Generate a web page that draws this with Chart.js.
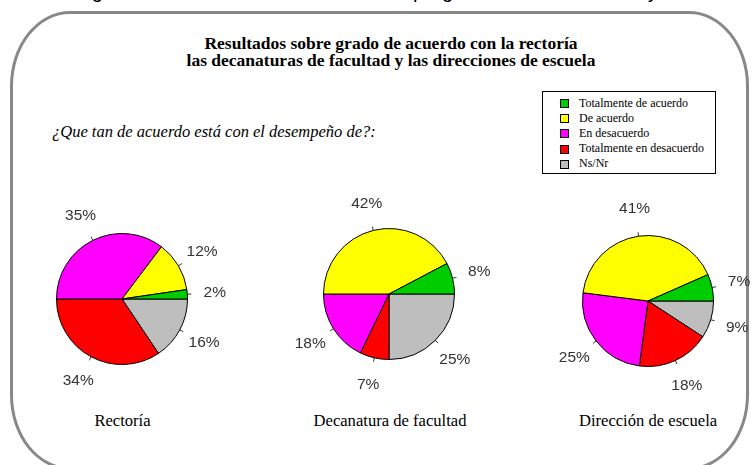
<!DOCTYPE html>
<html><head><meta charset="utf-8">
<script src="https://cdn.jsdelivr.net/npm/chart.js@4"></script>
<style>
html,body{margin:0;padding:0;width:752px;height:465px;overflow:hidden;background:#fff;}
body{position:relative;}
.t{position:absolute;white-space:nowrap;color:#000;}
.serif{font-family:"Liberation Serif","DejaVu Serif",serif;}
.c{transform:translateX(-50%);}
#frame{position:absolute;left:10px;top:11px;width:733px;height:453px;border:3px solid #888;border-radius:60px/75px;}
#legend{position:absolute;left:542px;top:91px;width:172px;height:81px;border:1px solid #000;background:#fff;}
.sq{position:absolute;width:7px;height:7px;border:1px solid #000;}
canvas{position:absolute;}
</style></head><body>
<div class="t" style="left:75px;top:-19px;font:20px 'Liberation Sans',sans-serif;line-height:20px;">Figura 3. Resultados del</div>
<div class="t" style="left:413px;top:-19px;font:20px 'Liberation Sans',sans-serif;line-height:20px;">programa académico</div>
<div class="t" style="left:648px;top:-19px;font:20px 'Liberation Sans',sans-serif;line-height:20px;">y la facultad</div>
<div id="frame"></div>
<div id="title1" class="t serif c" style="left:391px;top:35.3px;font-weight:bold;font-size:17.5px;line-height:17.5px;"></div>
<div id="title2" class="t serif c" style="left:391px;top:52.3px;font-weight:bold;font-size:17.5px;line-height:17.5px;"></div>
<div id="sub" class="t serif" style="left:52px;top:124px;font-style:italic;font-size:16.5px;line-height:16.5px;"></div>
<div id="legend"></div>
<canvas id="p0" width="240" height="200"></canvas>
<canvas id="p1" width="240" height="200"></canvas>
<canvas id="p2" width="240" height="200"></canvas>
<div id="names"></div>
<script>
// ---- data ----
const titleLines = ["Resultados sobre grado de acuerdo con la rectoría",
                    "las decanaturas de facultad y las direcciones de escuela"];
const question = "¿Que tan de acuerdo está con el desempeño de?:";
const categories = ["Totalmente de acuerdo","De acuerdo","En desacuerdo","Totalmente en desacuerdo","Ns/Nr"];
const pieNames = ["Rectoría","Decanatura de facultad","Dirección de escuela"];
const rectoria   = [2.3, 12.4, 35.3, 34.4, 15.6];
const decanatura = [7.7, 42.3, 17.8, 7.2, 25.0];
const direccion  = [6.6, 41.4, 24.9, 17.9, 9.2];
const sliceColors = ["#00CD00","#FFFF00","#FF00FF","#FF0000","#BEBEBE"];

// ---- layout ----
const pieCenters = [[121.5,298.5],[389,293.5],[647.5,300.5]];
const nameCenters = [[122.5,413],[390,412.7],[648,413]];

document.getElementById('title1').textContent = titleLines[0];
document.getElementById('title2').textContent = titleLines[1];
document.getElementById('sub').textContent = question;

const leg = document.getElementById('legend');
categories.forEach((c,i)=>{
  const y = 11 + i*15.2;
  const s = document.createElement('div');
  s.className='sq'; s.style.left='17px'; s.style.top=(y-4)+'px'; s.style.background=sliceColors[i];
  leg.appendChild(s);
  const t = document.createElement('div');
  t.className='t serif'; t.style.left='36px'; t.style.top=(y-6.5)+'px';
  t.style.fontSize='12px'; t.style.lineHeight='12px'; t.textContent=c;
  leg.appendChild(t);
});

const names = document.getElementById('names');
pieNames.forEach((n,i)=>{
  const d = document.createElement('div');
  d.className='t serif c'; d.style.left=nameCenters[i][0]+'px'; d.style.top=nameCenters[i][1]+'px';
  d.style.fontSize='16.6px'; d.style.lineHeight='16.6px'; d.textContent=n;
  names.appendChild(d);
});

const outLabels = {
  id:'outLabels',
  afterDatasetsDraw(chart){
    const ctx = chart.ctx;
    const meta = chart.getDatasetMeta(0);
    const data = chart.data.datasets[0].data;
    ctx.save();
    meta.data.forEach((arc,i)=>{
      const p = arc.getProps(['x','y','startAngle','endAngle','outerRadius'], true);
      const mid = (p.startAngle+p.endAngle)/2;
      const r = p.outerRadius;
      const cs = Math.cos(mid), sn = Math.sin(mid);
      ctx.strokeStyle='#000'; ctx.lineWidth=0.8;
      ctx.beginPath();
      ctx.moveTo(p.x+cs*r, p.y+sn*r);
      ctx.lineTo(p.x+cs*(r+4), p.y+sn*(r+4));
      ctx.stroke();
      ctx.fillStyle='#333';
      ctx.font='15.5px "Liberation Sans", Arial, sans-serif';
      ctx.textAlign='center'; ctx.textBaseline='middle';
      ctx.fillText(Math.round(data[i])+'%', p.x+cs*r*1.42, p.y+sn*r*1.42);
    });
    ctx.restore();
  }
};

[rectoria, decanatura, direccion].forEach((vals,k)=>{
  const cv = document.getElementById('p'+k);
  cv.style.left=(pieCenters[k][0]-120)+'px';
  cv.style.top=(pieCenters[k][1]-100)+'px';
  // reversed order + rotation 90 reproduces a counter-clockwise layout starting at 3 o'clock
  new Chart(cv, {
    type:'pie',
    data:{
      labels: categories.slice().reverse(),
      datasets:[{
        data: vals.slice().reverse(),
        backgroundColor: sliceColors.slice().reverse(),
        borderColor:'#000', borderWidth:1, hoverOffset:0, hoverBorderWidth:1
      }]
    },
    options:{
      responsive:false, animation:false, events:[], devicePixelRatio:1,
      rotation:90,
      layout:{padding:{top:34,bottom:34,left:54,right:54}},
      plugins:{legend:{display:false}, tooltip:{enabled:false}, title:{display:false}}
    },
    plugins:[outLabels]
  });
});
</script>
</body></html>
